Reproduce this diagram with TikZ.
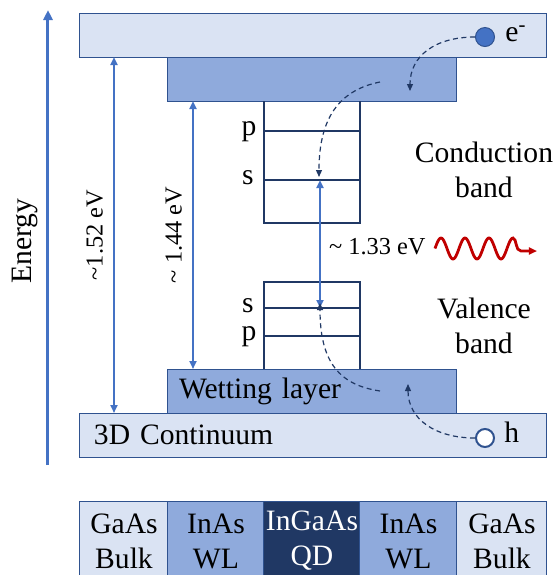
\documentclass[tikz,border=0pt]{standalone}
\usepackage{fontspec}
\setmainfont{Liberation Serif}
\usetikzlibrary{arrows.meta,positioning,calc}
\definecolor{bulkfill}{HTML}{DAE3F3}
\definecolor{wlfill}{HTML}{8FAADC}
\definecolor{qdnavy}{HTML}{203864}
\definecolor{edgeblue}{HTML}{2F528F}
\definecolor{arrowblue}{HTML}{4472C4}
\definecolor{photonred}{HTML}{C00000}

\begin{document}
\begin{tikzpicture}[x=0.5pt,y=-0.5pt,every node/.style={font=\fontsize{14.8}{17.5}\selectfont},band/.style={draw=edgeblue,line width=0.5pt,inner sep=0pt,outer sep=0pt,anchor=north west,minimum height=22pt},bulk/.style={band,fill=bulkfill,minimum width=233.5pt},wl/.style={band,fill=wlfill,minimum width=144.5pt},qd/.style={inner sep=0pt,outer sep=0pt,minimum width=48pt},qdline/.style={draw=qdnavy,line width=1.4pt},slab/.style={draw=edgeblue,line width=0.5pt,inner sep=0pt,outer sep=0pt,minimum height=40pt,align=center},earr/.style={arrowblue,line width=1pt,{Triangle[length=4pt,width=3.5pt]}-{Triangle[length=4pt,width=3.5pt]}},hop/.style={qdnavy,line width=0.6pt,dash pattern=on 2.5pt off 1.8pt,-{Triangle[length=3.5pt,width=3pt]}},elabel/.style={text=black,font=\fontsize{12.2}{14}\selectfont}]
\useasboundingbox (0,0) rectangle (555,575);
\clip (0,0) rectangle (555,575);
\coordinate (ebot) at (48,465);
\coordinate (etop) at (48,10);
\draw[arrowblue,line width=1.5pt,-{Triangle[length=5pt,width=4.5pt]}] (ebot) -- (etop);
\node[rotate=90] (energy) at (25.5,241) {Energy};
\node[bulk] (cbulk) at (80,13) {};
\node[wl] (cwl) at ([xshift=44pt]cbulk.south west) {};
\node[qd,anchor=north west,minimum height=61pt] (cqd) at ([xshift=48pt]cwl.south west) {};
\draw[qdline] (cqd.north west) -- (cqd.south west) -- (cqd.south east) -- (cqd.north east);
\draw[qdline] ([yshift=-15pt]cqd.north west) -- ([yshift=-15pt]cqd.north east);
\draw[qdline] ([yshift=-39.5pt]cqd.north west) -- ([yshift=-39.5pt]cqd.north east);
\node[anchor=mid] (cplab) at ([xshift=-7.5pt,yshift=-15pt]cqd.north west) {p};
\node[anchor=mid] (cslab) at ([xshift=-8pt,yshift=-39.5pt]cqd.north west) {s};
\node[bulk,text width=219.5pt,inner xsep=7pt,align=left] (vbulk) at (80,413) {3D Continuum};
\node[wl,anchor=south west,text width=133.5pt,inner xsep=5.5pt,align=left] (vwl) at ([xshift=44pt]vbulk.north west) {Wetting layer};
\node[qd,anchor=south west,minimum height=43.5pt] (vqd) at ([xshift=48pt]vwl.north west) {};
\draw[qdline] (vqd.south west) -- (vqd.north west) -- (vqd.north east) -- (vqd.south east);
\draw[qdline] ([yshift=-13pt]vqd.north west) -- ([yshift=-13pt]vqd.north east);
\draw[qdline] ([yshift=-27pt]vqd.north west) -- ([yshift=-27pt]vqd.north east);
\node[anchor=mid] (vslab) at ([xshift=-8pt,yshift=-13pt]vqd.north west) {s};
\node[anchor=mid] (vplab) at ([xshift=-7.5pt,yshift=-27pt]vqd.north west) {p};
\draw[earr] ([xshift=17pt]cbulk.south west) -- node[elabel,midway,rotate=90,anchor=south,inner sep=5pt] {\textasciitilde1.52 eV} ([xshift=17pt]vbulk.north west);
\draw[earr] ([xshift=12.5pt]cwl.south west) -- node[elabel,midway,rotate=90,anchor=south,inner sep=5pt] {\textasciitilde\ 1.44 eV} ([xshift=12.5pt]vwl.north west);
\draw[earr] ([xshift=28pt,yshift=-39.5pt]cqd.north west) -- node[elabel,midway,right,inner sep=4pt,yshift=-1.5pt] {\textasciitilde\ 1.33 eV} ([xshift=28pt,yshift=-13pt]vqd.north west);
\draw[photonred,line width=1.4pt,-{Triangle[length=4pt,width=3.5pt]}] plot[domain=0:3.25,samples=90,smooth] ({435+24*\x},{248.5-10.5*sin(360*\x)}) .. controls (517,238.5) and (515,251) .. (521,251) -- (537,251);
\node[align=center] (cband) at (484,170) {Conduction\\band};
\node[align=center] (vband) at (484,326) {Valence\\band};
\node[circle,fill=arrowblue,draw=edgeblue,line width=0.5pt,minimum size=9.5pt,inner sep=0pt] (elec) at (485,37) {};
\node[anchor=mid west,inner sep=0pt] (elab) at ([xshift=5pt]elec.east) {e\textsuperscript{-}};
\node[circle,fill=white,draw=edgeblue,line width=1pt,minimum size=9pt,inner sep=0pt] (hole) at (485,438) {};
\node[anchor=mid west,inner sep=0pt] (hlab) at ([xshift=4.5pt]hole.east) {h};
\coordinate (ewl) at (410,91);
\coordinate (ewlout) at (380,82);
\coordinate (eqd) at (319,177);
\coordinate (hwl) at (408,384);
\coordinate (hwlout) at (380,391);
\coordinate (hqd) at (320,303);
\draw[hop] (elec.west) .. controls +(-40,0) and +(0,-35) .. (ewl);
\draw[hop] (ewlout) .. controls +(-40,8) and +(0,-60) .. (eqd);
\draw[hop] (hole.west) .. controls +(-40,0) and +(0,35) .. (hwl);
\draw[hop] (hwlout) .. controls +(-40,-6) and +(0,60) .. (hqd);
\node[slab,fill=bulkfill,text width=44pt,anchor=north west] (gaasl) at (80,501) {GaAs\\Bulk};
\node[slab,fill=wlfill,text width=48pt,right=0pt of gaasl] (inasl) {InAs\\WL};
\node[slab,fill=qdnavy,text=white,text width=48pt,right=0pt of inasl] (qdmid) {InGaAs\\QD};
\node[slab,fill=wlfill,text width=48.5pt,right=0pt of qdmid] (inasr) {InAs\\WL};
\node[slab,fill=bulkfill,text width=45pt,right=0pt of inasr] (gaasr) {GaAs\\Bulk};
\end{tikzpicture}
\end{document}
